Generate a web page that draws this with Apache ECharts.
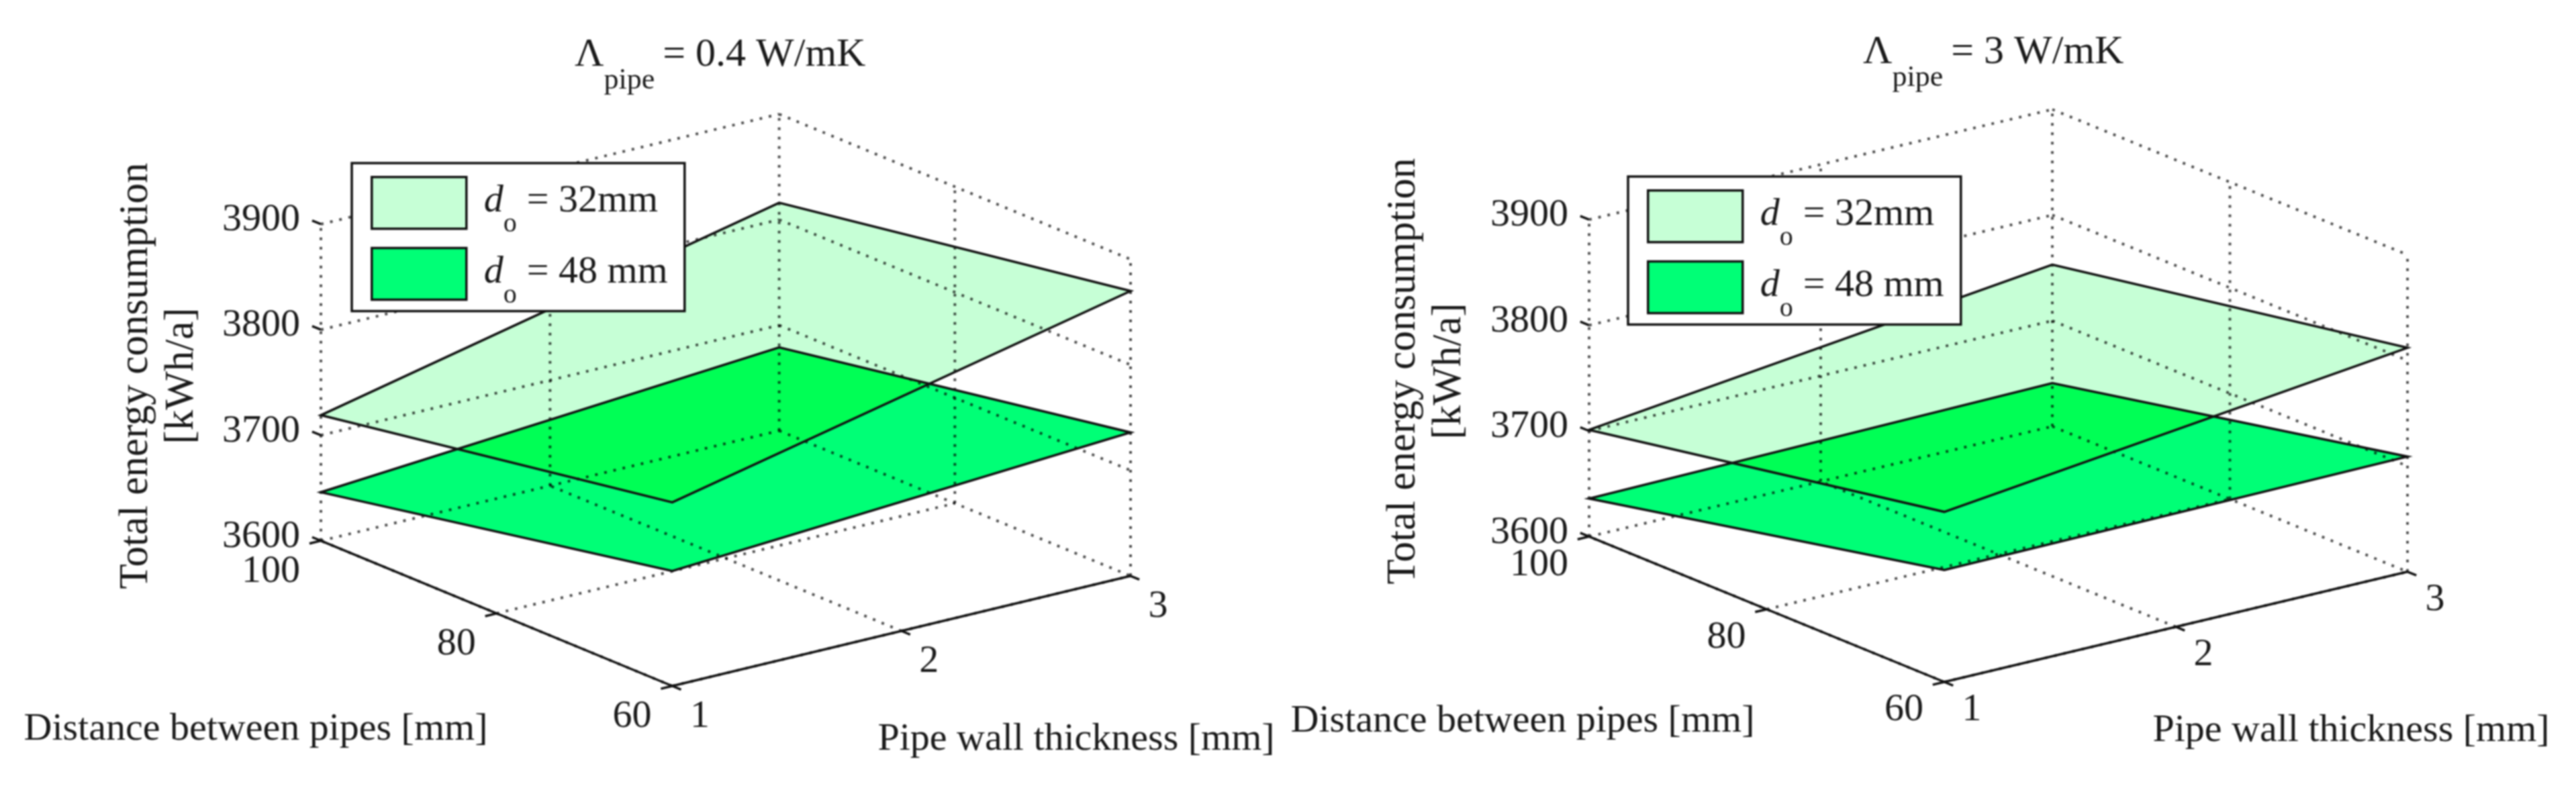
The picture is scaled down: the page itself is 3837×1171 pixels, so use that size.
<!DOCTYPE html>
<html>
<head>
<meta charset="utf-8">
<style>html,body{margin:0;padding:0;background:#fff}#c{width:3837px;height:1171px;filter:blur(0.8px)}</style>
<script src="https://cdn.jsdelivr.net/npm/echarts@6/dist/echarts.min.js"></script>
</head>
<body>
<div id="c"></div>
<script>
// ---- data ----
const thicknessTicks = [1, 2, 3];          // mm
const distanceTicks = [60, 80, 100];       // mm
const energyTicks = [3600, 3700, 3800, 3900]; // kWh/a
const cornerThickness = [1, 1, 3, 3];
const cornerDistance = [100, 60, 60, 100];
const lowK_d32 = [3719, 3774, 3870, 3816];
const lowK_d48 = [3646, 3709, 3736, 3679];
const highK_d32 = [3701, 3761, 3812, 3753];
const highK_d48 = [3636, 3706, 3709, 3641];
const legendNames = ['d32', 'd48'];
const legendTexts = ['= 32mm', '= 48 mm'];
const titleTexts = ['= 0.4 W/mK', '= 3 W/mK'];
const xTitle = 'Pipe wall thickness [mm]';
const dTitle = 'Distance between pipes [mm]';
const yTitle = 'Total energy consumption\n[kWh/a]';

// ---- view ----
const FONT = '"Liberation Serif","Times New Roman",serif';
const INK = '#1a1a1a';
const TICK = 58, COL32 = 'rgb(198,255,214)', COL48 = 'rgb(0,255,118)', COLBOTH = 'rgb(0,255,85)';
const frontShare = 0.434;           // horizontal share of the distance axis
const riseThickness = 104.3;        // upward screen shift (in kWh/a) across thickness axis
const dropDistance = 137.6;         // downward screen shift (in kWh/a) across distance axis
const yMin = energyTicks[0] - dropDistance, yMax = energyTicks[3] + riseThickness;

function proj(t, d, z) {
  const ft = (t - 1) / 2, fd = (100 - d) / 40;
  return [ft * (1 - frontShare) + fd * frontShare, z + ft * riseThickness - fd * dropDistance];
}

const panels = [
  {grid: {left: 478, top: 170, width: 1206, height: 852}, d32: lowK_d32, d48: lowK_d48,
   title: titleTexts[0], titlePos: [856, 52], legendPos: [524, 243],
   labelDy: 46, xTitlePos: [1603, 1102], dTitlePos: [381, 1087], yTitlePos: [237, 560]},
  {grid: {left: 2367, top: 163, width: 1219, height: 853}, d32: highK_d32, d48: highK_d48,
   title: titleTexts[1], titlePos: [2775, 48], legendPos: [2425, 263],
   labelDy: 42, xTitlePos: [3502, 1089], dTitlePos: [2268, 1075], yTitlePos: [2125, 553]}
];

const line = (a, b, s) => ({type: 'line', silent: true, shape: {x1: a[0], y1: a[1], x2: b[0], y2: b[1]}, style: s});
const DOT = {stroke: 'rgba(0,0,0,0.68)', lineWidth: 4, lineDash: [4, 10]};
const AXIS = {stroke: '#111', lineWidth: 3.5};
const txt = (s, x, y, align, size, rot) => ({
  type: 'text', silent: true, x: x, y: y, rotation: rot || 0,
  style: {text: s, x: 0, y: 0, align: align, verticalAlign: 'middle', textAlign: align, textVerticalAlign: 'middle',
          fontSize: size || TICK, fontFamily: FONT, fill: INK, lineHeight: 68}
});

function frameRender(p) {
  return function (params, api) {
    const P = (t, d, z) => api.coord(proj(t, d, z));
    const tMin = thicknessTicks[0], tMax = thicknessTicks[2];
    const dMin = distanceTicks[0], dMax = distanceTicks[2];
    const zMin = energyTicks[0], zMax = energyTicks[3];
    const kids = [];
    energyTicks.forEach(z => {
      kids.push(line(P(tMin, dMax, z), P(tMax, dMax, z), DOT));
      kids.push(line(P(tMax, dMax, z), P(tMax, dMin, z), DOT));
    });
    thicknessTicks.forEach(t => {
      kids.push(line(P(t, dMax, zMin), P(t, dMax, zMax), DOT));
      if (t !== tMax) kids.push(line(P(t, dMin, zMin), P(t, dMax, zMin), DOT));
    });
    distanceTicks.forEach(d => {
      if (d !== dMax) kids.push(line(P(tMax, d, zMin), P(tMax, d, zMax), DOT));
      if (d !== dMax) kids.push(line(P(tMin, d, zMin), P(tMax, d, zMin), DOT));
    });
    kids.push(line(P(tMin, dMax, zMin), P(tMin, dMin, zMin), AXIS));
    kids.push(line(P(tMin, dMin, zMin), P(tMax, dMin, zMin), AXIS));
    energyTicks.forEach(z => {
      const a = P(tMin, dMax, z);
      kids.push(line(a, P(tMin, dMax + 1, z), AXIS));
      kids.push(txt(String(z), a[0] - 31, a[1] - 6, 'right'));
    });
    distanceTicks.forEach(d => {
      const a = P(tMin, d, zMin);
      kids.push(line(a, P(tMin - 0.05, d, zMin), AXIS));
      kids.push(txt(String(d), a[0] - 31, a[1] + p.labelDy, 'right'));
    });
    thicknessTicks.forEach(t => {
      const a = P(t, dMin, zMin);
      kids.push(line(a, P(t, dMin - 1, zMin), AXIS));
      kids.push(txt(String(t), a[0] + 41, a[1] + p.labelDy, 'center'));
    });
    kids.push(txt(xTitle, p.xTitlePos[0], p.xTitlePos[1], 'center'));
    kids.push(txt(dTitle, p.dTitlePos[0], p.dTitlePos[1], 'center'));
    kids.push(txt(yTitle, p.yTitlePos[0], p.yTitlePos[1], 'center', 61, Math.PI / 2));
    return {type: 'group', children: kids};
  };
}

const quad = (values, api) => values.map((z, i) => api.coord(proj(cornerThickness[i], cornerDistance[i], z)));

// overlap of two convex outlines on the page (Sutherland-Hodgman)
function clipPoly(subject, clip) {
  let out = subject;
  const area = clip.reduce((s, a, i) => { const b = clip[(i + 1) % clip.length]; return s + a[0] * b[1] - b[0] * a[1]; }, 0);
  const side = (p, a, b) => ((b[0] - a[0]) * (p[1] - a[1]) - (b[1] - a[1]) * (p[0] - a[0])) * Math.sign(area);
  clip.forEach((a, i) => {
    const b = clip[(i + 1) % clip.length], input = out;
    out = [];
    input.forEach((p, j) => {
      const q = input[(j + 1) % input.length], sp = side(p, a, b), sq = side(q, a, b);
      if (sp >= 0) out.push(p);
      if ((sp >= 0) !== (sq >= 0)) {
        const k = sp / (sp - sq);
        out.push([p[0] + (q[0] - p[0]) * k, p[1] + (q[1] - p[1]) * k]);
      }
    });
  });
  return out;
}

function fillRender(values, color) {
  return (params, api) => params.dataIndex !== 0 ? null : {type: 'polygon', silent: true,
    shape: {points: quad(values, api)}, style: {fill: color}};
}
function overlapRender(a, b) {
  return (params, api) => params.dataIndex !== 0 ? null : {type: 'polygon', silent: true,
    shape: {points: clipPoly(quad(a, api), quad(b, api))}, style: {fill: COLBOTH}};
}
function edgeRender(a, b) {
  return (params, api) => params.dataIndex !== 0 ? null : {type: 'group', children: [a, b].map(v => ({
    type: 'polygon', silent: true, shape: {points: quad(v, api)}, style: {fill: 'none', stroke: '#111', lineWidth: 3.5}}))};
}

const grids = [], xAxes = [], yAxes = [], series = [], titles = [], legends = [];
panels.forEach((p, i) => {
  grids.push(p.grid);
  xAxes.push({type: 'value', gridIndex: i, min: 0, max: 1, show: false});
  yAxes.push({type: 'value', gridIndex: i, min: yMin, max: yMax, show: false});
  const common = {type: 'custom', xAxisIndex: i, yAxisIndex: i, coordinateSystem: 'cartesian2d', clip: false, silent: true, animation: false};
  const rows = vals => vals.map((z, k) => proj(cornerThickness[k], cornerDistance[k], z));
  series.push(Object.assign({}, common, {name: legendNames[1], data: rows(p.d48), z: 2, itemStyle: {color: COL48}, renderItem: fillRender(p.d48, COL48)}));
  series.push(Object.assign({}, common, {name: legendNames[0], data: rows(p.d32), z: 2, itemStyle: {color: COL32}, renderItem: fillRender(p.d32, COL32)}));
  series.push(Object.assign({}, common, {name: 'both' + i, data: rows(p.d32), z: 2, renderItem: overlapRender(p.d32, p.d48)}));
  series.push(Object.assign({}, common, {name: 'frame' + i, data: [[0, energyTicks[0]]], z: 2, renderItem: frameRender(p)}));
  series.push(Object.assign({}, common, {name: 'edges' + i, data: rows(p.d32), z: 2, renderItem: edgeRender(p.d48, p.d32)}));
  titles.push({
    left: p.titlePos[0], top: p.titlePos[1], padding: 0,
    text: '{a|\u039b}{s|pipe}{m|' + p.title + '}',
    textStyle: {fontWeight: 'normal', rich: {
      a: {fontSize: 60, fontWeight: 'normal', fontFamily: FONT, color: INK, lineHeight: 94, verticalAlign: 'top'},
      s: {fontSize: 44, fontWeight: 'normal', fontFamily: FONT, color: INK, lineHeight: 94, padding: [46, 0, 0, 0], verticalAlign: 'top'},
      m: {fontSize: 60, fontWeight: 'normal', fontFamily: FONT, color: INK, lineHeight: 94, verticalAlign: 'top', padding: [0, 0, 0, 12]}
    }}
  });
  legends.push({
    left: p.legendPos[0], top: p.legendPos[1], orient: 'vertical', selectedMode: false,
    data: legendNames, icon: 'rect', itemWidth: 141, itemHeight: 77, itemGap: 13,
    padding: [19, 0, 3, 28], backgroundColor: '#fff', borderColor: '#111', borderWidth: 3.5,
    itemStyle: {borderColor: '#111', borderWidth: 3.5},
    formatter: n => '{d|d}{o|o}{t|' + legendTexts[legendNames.indexOf(n)] + '}',
    textStyle: {rich: {
      d: {fontSize: 58, fontStyle: 'italic', fontFamily: FONT, color: INK, lineHeight: 77, verticalAlign: 'top', padding: [7, 0, 0, 21]},
      o: {fontSize: 40, fontFamily: FONT, color: INK, lineHeight: 77, verticalAlign: 'top', padding: [51, 0, 0, 0]},
      t: {fontSize: 58, fontFamily: FONT, color: INK, lineHeight: 77, verticalAlign: 'top', width: 235, padding: [7, 0, 0, 15]}
    }}
  });
});

const chart = echarts.init(document.getElementById('c'), null, {renderer: 'canvas'});
chart.setOption({
  backgroundColor: '#fff', animation: false,
  title: titles, legend: legends, grid: grids, xAxis: xAxes, yAxis: yAxes, series: series
});
</script>
</body>
</html>
